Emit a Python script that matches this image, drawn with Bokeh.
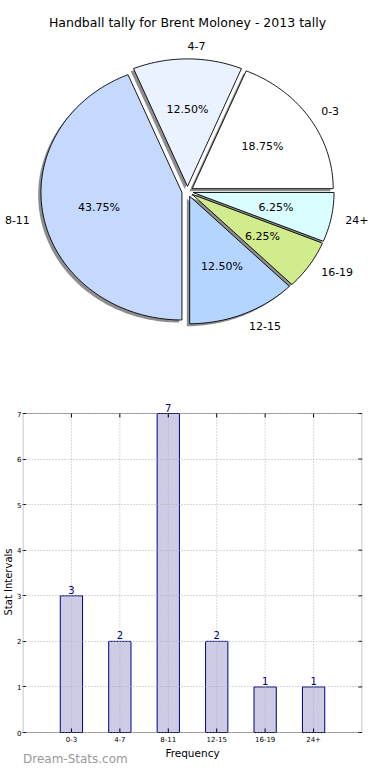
import numpy as np
from bokeh.plotting import figure
from bokeh.models import (Range1d, FactorRange, Label, ColumnDataSource,
                          BoxAnnotation, FixedTicker)
from bokeh.core.properties import value
from bokeh.embed import file_html
from bokeh.resources import INLINE

# ---- data ----
categories = ["0-3", "4-7", "8-11", "12-15", "16-19", "24+"]
counts = [3, 2, 7, 2, 1, 1]
title_text = "Handball tally for Brent Moloney - 2013 tally"
y_ticks = [0, 1, 2, 3, 4, 5, 6, 7]
y_max = 7
x_title = "Frequency"
y_title = "Stat Intervals"
watermark = "Dream-Stats.com"

# ---- style ----
slice_colors = ["#ffffff", "#eaf1ff", "#c5d9ff", "#b4d5ff", "#d0ec8c", "#dafeff"]
FONT = "DejaVu Sans"
explode = 0.04
RX_PX, RY_PX = 141.0, 127.5   # pixels per pie unit (non-equal aspect, as in the original)

# ================= PIE =================
PW, PH = 374, 385
cx, cy = 187.0, 191.0         # pie centre in the canvas (from left, from top)
x0, x1 = -cx / RX_PX, (PW - cx) / RX_PX
y0, y1 = -(PH - cy) / RY_PX, cy / RY_PX
pie = figure(width=PW, height=PH, output_backend="svg", toolbar_location=None,
             x_axis_type=None, y_axis_type=None,
             x_range=Range1d(x0, x1), y_range=Range1d(y0, y1),
             min_border=0, min_border_left=0, min_border_right=0,
             min_border_top=0, min_border_bottom=0, outline_line_color=None)
pie.grid.visible = False

vals = np.array(counts, dtype=float)
frac = vals / vals.sum()
ends = np.cumsum(frac) * 2 * np.pi
starts = ends - frac * 2 * np.pi
mids = (starts + ends) / 2
ox = explode * np.cos(mids)
oy = explode * np.sin(mids)


def wedge_outline(s, e, dx, dy):
    n = max(8, int(np.degrees(e - s) / 1.5))
    t = np.linspace(s, e, n)
    xs = np.concatenate([[dx], dx + np.cos(t), [dx]])
    ys = np.concatenate([[dy], dy + np.sin(t), [dy]])
    return list(xs), list(ys)


sh_x, sh_y, w_x, w_y = [], [], [], []
for s, e, dx, dy in zip(starts, ends, ox, oy):
    a, b = wedge_outline(s, e, dx - 0.02, dy - 0.02)
    sh_x.append(a); sh_y.append(b)
    a, b = wedge_outline(s, e, dx, dy)
    w_x.append(a); w_y.append(b)

pie.patches(xs=sh_x, ys=sh_y, fill_color="#7a7a7a", fill_alpha=0.85, line_color=None)
pie.patches(xs=w_x, ys=w_y, fill_color=slice_colors, line_color="black",
            line_width=0.9, line_join="miter")

pct = ["%.2f%%" % (f * 100) for f in frac]
pie.text(x=ox + 0.6 * np.cos(mids), y=oy + 0.6 * np.sin(mids), text=pct,
         text_font=value(FONT), text_font_size="11px", text_align="center",
         text_baseline="middle", text_color="black")

lab_x = ox + 1.1 * np.cos(mids)
lab_y = oy + 1.1 * np.sin(mids)
aligns = ["left" if np.cos(m) > 0 else "right" for m in mids]
lsrc = ColumnDataSource(dict(x=lab_x, y=lab_y, t=categories, a=aligns))
pie.text(x="x", y="y", text="t", source=lsrc, text_align="a",
         text_font=value(FONT), text_font_size="11px", text_baseline="middle",
         text_color="black")

pie.add_layout(Label(x=cx, y=PH - 22, x_units="screen", y_units="screen",
                     text=title_text, text_font=FONT, text_font_size="12.5px",
                     text_align="center", text_baseline="middle", text_color="black"))

# ================= BAR =================
BW, BH = 374, 379
TOPB, RIGHTB = 14, 12
Y7_PX, Y0_PX = 28.0, 347.0     # where y=7 and y=0 sit, from the canvas top
ppu = (Y0_PX - Y7_PX) / y_max
y_hi = y_max + (Y7_PX - TOPB) / ppu
y_lo = -(BH - Y0_PX) / ppu
pad = 0.51
n_cat = len(categories)
box_left, box_right = -0.5, n_cat + 0.5

bar = figure(width=BW, height=BH, output_backend="svg", toolbar_location=None,
             x_range=FactorRange(factors=categories, range_padding=pad,
                                 range_padding_units="absolute"),
             y_range=Range1d(y_lo, y_hi), x_axis_location=None,
             min_border_top=TOPB, min_border_bottom=0,
             min_border_right=RIGHTB, min_border_left=0,
             outline_line_color=None)

bsrc = ColumnDataSource(dict(x=categories, top=counts, lab=[str(c) for c in counts]))
bar.vbar(x="x", top="top", bottom=0, width=0.46, source=bsrc, fill_color="#ccccE6",
         line_color="#000080", line_width=1)

# dotted grid over the bars
bar.xgrid.visible = False
bar.segment(x0=categories, y0=[0] * n_cat, x1=categories, y1=[y_max] * n_cat,
            line_color="#b0b0b0", line_dash="1 2", line_width=1)
bar.ygrid.grid_line_color = "#b0b0b0"
bar.ygrid.grid_line_dash = "1 2"
bar.ygrid.level = "overlay"
bar.ygrid.bounds = (0, y_max)

# axes box (0..7)
bar.add_layout(BoxAnnotation(left=box_left, right=box_right, bottom=0, top=y_max,
                             fill_alpha=0, line_color="black", line_width=1,
                             level="overlay"))

# inward ticks on the right and top edges of the box
bar.ray(x=[box_right] * len(y_ticks), y=y_ticks, length=4, length_units="screen",
        angle=np.pi, line_color="black", line_width=1)
bar.ray(x=categories, y=[y_max] * n_cat, length=4, length_units="screen",
        angle=-np.pi / 2, line_color="black", line_width=1)
bar.ray(x=categories, y=[0] * n_cat, length=4, length_units="screen",
        angle=np.pi / 2, line_color="black", line_width=1)

# value labels
bar.text(x="x", y="top", text="lab", source=bsrc, y_offset=-2, text_align="center",
         text_baseline="bottom", text_font=value(FONT), text_font_size="10px",
         text_color="#000080")

# category tick labels, axis title and watermark under y=0
bar.text(x=categories, y=[0] * n_cat, text=categories, y_offset=3,
         text_align="center", text_baseline="top", text_font=value(FONT),
         text_font_size="7px", text_color="black")
bar.text(x=[n_cat / 2], y=[0], text=[x_title], y_offset=20,
         text_align="center", text_baseline="middle", text_font=value(FONT),
         text_font_size="10.5px", text_color="black")
bar.text(x=[box_left], y=[0], text=[watermark], y_offset=26,
         text_align="left", text_baseline="middle", text_font=value(FONT),
         text_font_size="12px", text_color="#9a9a9a")

# y axis (left, labelled)
yax = bar.yaxis[0]
yax.ticker = FixedTicker(ticks=y_ticks)
yax.bounds = (0, y_max)
yax.axis_line_color = None
yax.major_tick_in = 4
yax.major_tick_out = 0
yax.minor_tick_in = 0
yax.minor_tick_out = 0
yax.major_label_text_font = FONT
yax.major_label_text_font_size = "7px"
yax.major_label_text_color = "black"
yax.major_label_standoff = 1
yax.axis_label = y_title
yax.axis_label_text_font = FONT
yax.axis_label_text_font_size = "10px"
yax.axis_label_text_font_style = "normal"
yax.axis_label_text_color = "black"
yax.axis_label_standoff = 0

open("out.html", "w").write(file_html((pie, bar), INLINE))
